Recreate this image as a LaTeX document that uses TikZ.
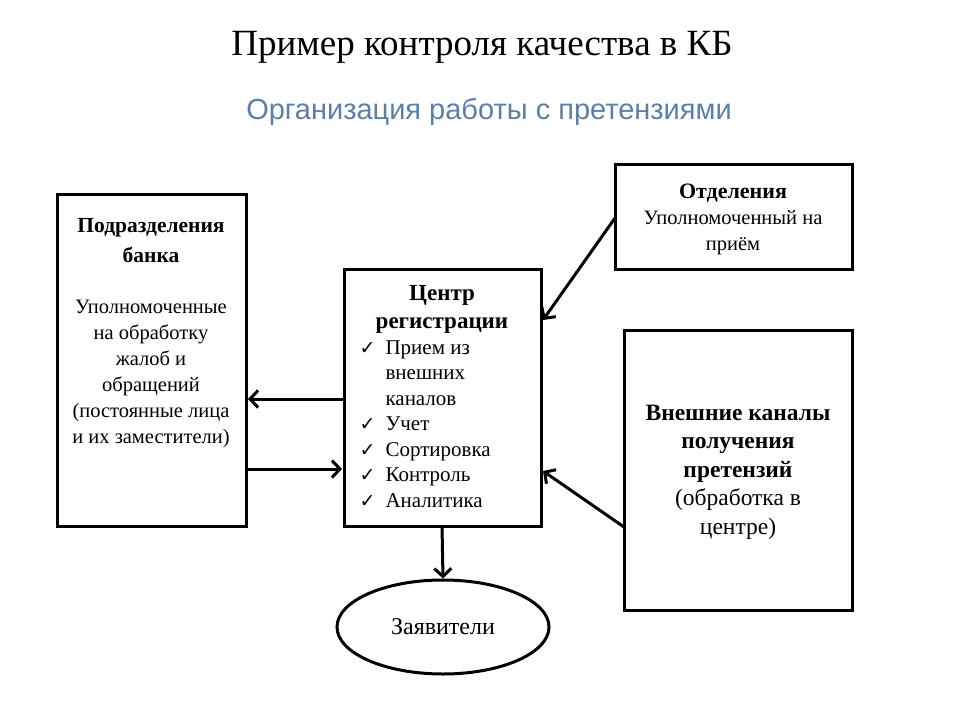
\documentclass[tikz,border=0pt]{standalone}
\usepackage{fontspec}
\setmainfont{Liberation Serif}
\newfontfamily\arialf{Liberation Sans}
\newfontfamily\dejavu{DejaVu Sans}
\usetikzlibrary{shapes.geometric,arrows.meta}
\definecolor{subblue}{HTML}{5A7FA8}
\newcommand{\ck}{\makebox[26pt][l]{\dejavu\fontsize{19}{19}\selectfont ✓}}
\begin{document}
\begin{tikzpicture}[x=1pt,y=-1pt,
  bx/.style={draw,line width=3pt,inner sep=0pt},
  arr/.style={line width=3pt,-{Straight Barb[length=8pt,width=17pt]}},
  txt/.style={align=center,font=\fontsize{20.5}{26}\selectfont}]
\useasboundingbox (0,0) rectangle (960,720);
\node at (482,47) {\fontsize{37}{40}\selectfont Пример контроля качества в КБ};
\node[subblue] at (489,112) {\arialf\fontsize{29}{32}\selectfont Организация работы с претензиями};
% boxes
\draw[bx] (57,194) rectangle (246,526);
\node[txt,font=\fontsize{21.5}{30}\selectfont\bfseries] (lhead) at (151,241) {Подразделения\\банка};
\node[txt] (ltext) at (151,374) {Уполномоченные\\на обработку\\жалоб и\\обращений\\(постоянные лица\\и их заместители)};
\draw[bx] (344,269) rectangle (541,526);
\node[txt,font=\fontsize{23}{28}\selectfont\bfseries] (ctitle) at (442,309) {Центр\\регистрации};
\node[anchor=north west,align=left,font=\fontsize{21}{25.5}\selectfont] (clist) at (356,337)
 {\ck Прием из\\\hspace{26pt}внешних\\\hspace{26pt}каналов\\
 \ck Учет\\\ck Сортировка\\\ck Контроль\\\ck Аналитика};
\draw[bx] (615,164) rectangle (852,269);
\node[txt] (ttext) at (733,219) {\fontsize{22}{26}\selectfont\textbf{Отделения}\\Уполномоченный на\\приём};
\draw[bx] (624,330) rectangle (852,610);
\node[txt,font=\fontsize{23.5}{28.5}\selectfont] (rtext) at (738,472) {\textbf{Внешние каналы}\\\textbf{получения}\\\textbf{претензий}\\(обработка в\\ центре)};
\node[draw,ellipse,line width=3pt,minimum width=212pt,minimum height=94pt] (zv) at (443,627) {\fontsize{24}{26}\selectfont Заявители};
% connector coordinates
\coordinate (c1) at (344,399); \coordinate (l1) at (248,399);
\coordinate (l2) at (246,469); \coordinate (c2) at (342,469);
\coordinate (cb) at (442,526);
\coordinate (t1) at (615,218); \coordinate (c3) at (543,320);
\coordinate (r1) at (624,527); \coordinate (c4) at (543,471);
\draw[arr] (c1) -- (l1);
\draw[arr] (l2) -- (c2);
\draw[arr] (cb) -- (zv.north);
\draw[arr] (t1) -- (c3);
\draw[arr] (r1) -- (c4);
\end{tikzpicture}
\end{document}
